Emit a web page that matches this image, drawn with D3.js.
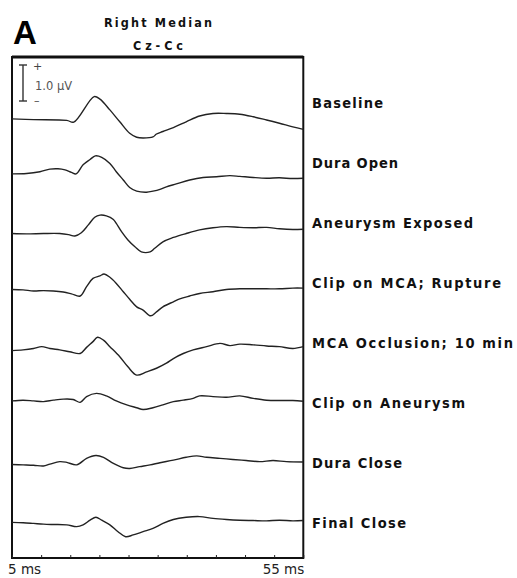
<!DOCTYPE html>
<html>
<head>
<meta charset="utf-8">
<script src="https://cdn.jsdelivr.net/npm/d3@7"></script>
<style>
  body { margin: 0; background: #fff; }
  svg { display: block; }
  .trace { fill: none; stroke: #222; stroke-width: 1.4; stroke-linejoin: round; }
  .lbl { font-family: "DejaVu Sans Condensed", "DejaVu Sans", sans-serif; font-weight: bold; font-size: 14.5px; fill: #111; }
  .ttl { font-family: "DejaVu Sans Condensed", "DejaVu Sans", sans-serif; font-weight: bold; font-size: 12.5px; fill: #111; }
</style>
</head>
<body>
<svg id="chart" width="517" height="578"></svg>
<script>
// conditions, top to bottom
var conditions = ['Baseline', 'Dura Open', 'Aneurysm Exposed', 'Clip on MCA; Rupture',
                  'MCA Occlusion; 10 min', 'Clip on Aneurysm', 'Dura Close', 'Final Close'];

// each trace: [ms, µV] relative to the row line
var baselineTrace = [[5,-0.45],[8.7,-0.47],[14.4,-0.49],[15.6,-0.54],[19.1,0.17],[20.1,0.10],[21.8,-0.20],
  [23.5,-0.53],[25.2,-0.85],[26.4,-0.96],[27.5,-0.98],[29.2,-0.95],[29.8,-0.87],[30.9,-0.80],[32.7,-0.69],
  [34.9,-0.53],[37.2,-0.37],[39.5,-0.30],[41.8,-0.30],[44.1,-0.32],[46.4,-0.39],[48.7,-0.48],[50.9,-0.57],
  [53.2,-0.67],[55,-0.74]];
var duraOpenTrace = [[5,-0.31],[7.5,-0.30],[9.8,-0.25],[11.5,-0.18],[12.9,-0.17],[14.1,-0.20],[15.2,-0.27],
  [16.0,-0.31],[17.2,-0.06],[18.4,0.09],[19.3,0.19],[20.4,0.15],[21.8,-0.02],[22.9,-0.25],[24.1,-0.48],
  [25.2,-0.69],[26.4,-0.79],[28.1,-0.82],[29.2,-0.79],[30.4,-0.74],[31.5,-0.67],[33.2,-0.59],[35.5,-0.48],
  [37.8,-0.41],[40.1,-0.39],[42.4,-0.36],[44.1,-0.38],[46.4,-0.41],[48.7,-0.43],[50.9,-0.42],[53.2,-0.44],[55,-0.43]];
var aneurysmExposedTrace = [[5,-0.30],[7.5,-0.31],[10.4,-0.30],[13.2,-0.30],[14.7,-0.33],[15.8,-0.37],
  [16.9,-0.28],[18.1,-0.06],[19.2,0.15],[20.1,0.21],[21.2,0.19],[22.4,0.09],[22.9,-0.02],[23.8,-0.25],
  [24.9,-0.48],[26.1,-0.67],[27.2,-0.81],[28.7,-0.81],[29.5,-0.71],[30.9,-0.53],[32.7,-0.41],[34.9,-0.30],
  [37.2,-0.20],[39.5,-0.14],[41.8,-0.11],[44.1,-0.13],[46.4,-0.14],[48.7,-0.13],[50.9,-0.17],[53.2,-0.19],[55,-0.18]];
var clipMcaTrace = [[5,-0.19],[6.9,-0.20],[8.7,-0.23],[10.4,-0.22],[12.1,-0.23],[13.8,-0.26],[15.2,-0.31],
  [16.7,-0.37],[17.8,-0.11],[18.9,0.12],[20.1,0.19],[20.8,0.24],[21.8,0.15],[22.9,-0.02],[24.1,-0.25],
  [25.2,-0.46],[26.4,-0.67],[27.5,-0.76],[28.8,-0.92],[29.8,-0.81],[30.9,-0.67],[32.7,-0.53],[33.8,-0.45],
  [35.5,-0.37],[37.2,-0.30],[39.5,-0.25],[41.8,-0.19],[44.1,-0.17],[46.4,-0.17],[48.7,-0.17],[50.9,-0.17],
  [53.2,-0.15],[55,-0.15]];
var mcaOcclusionTrace = [[5,-0.22],[6.9,-0.20],[8.7,-0.16],[10.1,-0.11],[11.5,-0.16],[13.2,-0.20],[14.9,-0.25],
  [16.7,-0.30],[17.8,-0.13],[18.9,0.03],[19.7,0.15],[20.7,0.07],[21.8,-0.11],[23.5,-0.39],[24.9,-0.67],
  [26.4,-0.90],[28.1,-0.81],[29.8,-0.71],[31.5,-0.57],[32.7,-0.44],[34.4,-0.30],[36.1,-0.20],[38.4,-0.11],
  [40.7,-0.02],[42.4,-0.08],[44.1,-0.04],[46.4,-0.06],[48.7,-0.09],[50.9,-0.11],[53.2,-0.16],[55,-0.11]];
var clipAneurysmTrace = [[5,0.05],[6.9,0.07],[8.7,0.05],[10.4,0.03],[12.1,0.07],[13.8,0.10],[15.5,0.09],
  [16.7,0.01],[17.8,0.17],[19.5,0.26],[21.2,0.19],[22.9,0.05],[24.7,-0.06],[26.4,-0.14],[27.5,-0.19],
  [29.2,-0.14],[30.9,-0.06],[32.7,0.03],[34.4,0.07],[36.1,0.12],[37.2,0.19],[39.5,0.17],[41.8,0.15],
  [44.1,0.19],[46.4,0.12],[48.7,0.07],[50.9,0.06],[53.2,0.06],[55,0.04]];
var duraCloseTrace = [[5,-0.05],[6.9,-0.06],[8.7,-0.07],[10.4,-0.09],[11.5,-0.04],[13.2,0.03],[14.4,0.01],
  [16.1,-0.06],[17.8,0.12],[19.4,0.20],[20.7,0.15],[22.4,-0.02],[24.1,-0.14],[25.2,-0.16],[26.9,-0.11],
  [28.7,-0.06],[30.4,0.00],[32.7,0.07],[34.9,0.15],[36.7,0.19],[38.4,0.15],[40.7,0.12],[42.9,0.09],
  [45.2,0.06],[47.5,0.03],[49.8,0.06],[52.1,0.03],[55,0.02]];
var finalCloseTrace = [[5,0.01],[6.9,0.00],[8.7,-0.02],[10.4,-0.04],[12.1,-0.05],[14.4,-0.06],[16.1,-0.11],
  [17.2,-0.06],[18.4,0.07],[19.4,0.15],[20.4,0.07],[21.8,-0.06],[23.2,-0.25],[24.5,-0.39],[25.8,-0.34],
  [27.5,-0.25],[29.2,-0.16],[30.9,-0.02],[32.7,0.09],[34.9,0.15],[37.2,0.17],[39.5,0.12],[41.8,0.09],
  [44.1,0.07],[46.4,0.06],[48.7,0.05],[50.9,0.07],[53.2,0.05],[55,0.06]];

var traces = [baselineTrace, duraOpenTrace, aneurysmExposedTrace, clipMcaTrace,
              mcaOcclusionTrace, clipAneurysmTrace, duraCloseTrace, finalCloseTrace];

var tickMs = [5, 10, 15, 20, 25, 30, 35, 40, 45, 50, 55];
var endLabels = [[5, '5 ms'], [55, '55 ms']];
var scaleBarUv = 1.0;

var svg = d3.select('#chart');

var x = d3.scaleLinear().domain([5, 55]).range([12, 303.3]);
var row = d3.scalePoint().domain(conditions).range([102.7, 522.7]);
var amp = d3.scaleLinear().domain([0, 1]).range([0, -36]); // 1 µV = 36 px

var frameTop = 57, frameBottom = 558;

// panel letter + title
svg.append('text').attr('x', 13).attr('y', 44)
   .style('font-family', '"Liberation Sans", Arial, sans-serif')
   .style('font-weight', 'bold').style('font-size', '33px').text('A');
svg.append('text').attr('class', 'ttl').attr('x', 158).attr('y', 27)
   .attr('text-anchor', 'middle').attr('textLength', 108).attr('lengthAdjust', 'spacing').text('Right Median');
svg.append('text').attr('class', 'ttl').attr('x', 158).attr('y', 50)
   .attr('text-anchor', 'middle').attr('textLength', 50).attr('lengthAdjust', 'spacing').text('Cz-Cc');

// frame
svg.append('rect')
   .attr('x', x(5)).attr('y', frameTop)
   .attr('width', x(55) - x(5)).attr('height', frameBottom - frameTop)
   .attr('fill', 'none').attr('stroke', '#111').attr('stroke-width', 2);
svg.append('line') // top edge is drawn heavier
   .attr('x1', x(5)).attr('x2', x(55)).attr('y1', frameTop).attr('y2', frameTop)
   .attr('stroke', '#111').attr('stroke-width', 3);

// bottom ticks, pointing up
var xAxis = d3.axisBottom(x).tickValues(tickMs).tickSizeInner(-3).tickSizeOuter(0).tickFormat('');
var gx = svg.append('g').attr('transform', 'translate(0,' + frameBottom + ')').call(xAxis);
gx.select('.domain').remove();
gx.selectAll('line').attr('stroke', '#222');

svg.selectAll('.endlbl').data(endLabels).enter().append('text')
   .attr('class', 'endlbl')
   .attr('x', (d, i) => i === 0 ? x(d[0]) - 4 : x(d[0]) + 1)
   .attr('y', 574)
   .attr('text-anchor', (d, i) => i === 0 ? 'start' : 'end')
   .style('font-family', '"DejaVu Sans", sans-serif').style('font-size', '13.5px').style('fill', '#222')
   .text(d => d[1]);

// scale bar
var barTop = 65, barX = 23;
var gBar = svg.append('g').attr('stroke', '#333').attr('stroke-width', 1.4);
gBar.append('line').attr('x1', barX).attr('x2', barX).attr('y1', barTop).attr('y2', barTop - amp(scaleBarUv));
gBar.append('line').attr('x1', barX - 4).attr('x2', barX + 4).attr('y1', barTop).attr('y2', barTop);
gBar.append('line').attr('x1', barX - 4).attr('x2', barX + 4)
    .attr('y1', barTop - amp(scaleBarUv)).attr('y2', barTop - amp(scaleBarUv));
svg.append('text').attr('x', 33).attr('y', 70).style('font-size', '11px')
   .style('font-family', '"DejaVu Sans", sans-serif').style('fill', '#444').text('+');
svg.append('text').attr('x', 34).attr('y', 104).style('font-size', '11px')
   .style('font-family', '"DejaVu Sans", sans-serif').style('fill', '#444').text('–');
svg.append('text').attr('x', 35).attr('y', 90).style('font-size', '11.5px')
   .style('font-family', '"DejaVu Sans", sans-serif').style('fill', '#555').text('1.0 μV');

// traces
var line = d3.line()
   .x(d => x(d[0]))
   .curve(d3.curveCatmullRom.alpha(0.5));

svg.selectAll('.trace').data(traces).enter().append('path')
   .attr('class', 'trace')
   .attr('d', (t, i) => line.y(d => row(conditions[i]) + amp(d[1]))(t));

// condition labels on the right
var labelWidths = [71, 86, 161, 189, 201, 153, 90, 94];
svg.selectAll('.lbl').data(conditions).enter().append('text')
   .attr('class', 'lbl')
   .attr('x', 312)
   .attr('y', d => row(d) + 5.5)
   .attr('textLength', (d, i) => labelWidths[i]).attr('lengthAdjust', 'spacing')
   .text(d => d);
</script>
</body>
</html>
